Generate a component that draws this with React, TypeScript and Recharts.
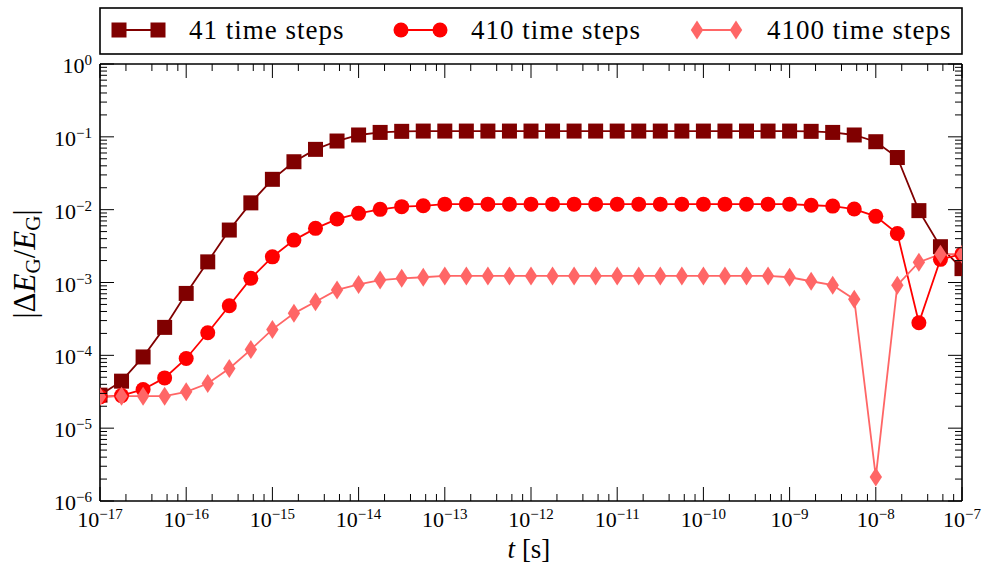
import React from 'react';
import { LineChart, Line, XAxis, YAxis } from 'recharts';

// time grid, 4 points per decade from 1e-17 to 1e-7 s
const times = [
  1e-17, 1.778e-17, 3.162e-17, 5.623e-17,
  1e-16, 1.778e-16, 3.162e-16, 5.623e-16,
  1e-15, 1.778e-15, 3.162e-15, 5.623e-15,
  1e-14, 1.778e-14, 3.162e-14, 5.623e-14,
  1e-13, 1.778e-13, 3.162e-13, 5.623e-13,
  1e-12, 1.778e-12, 3.162e-12, 5.623e-12,
  1e-11, 1.778e-11, 3.162e-11, 5.623e-11,
  1e-10, 1.778e-10, 3.162e-10, 5.623e-10,
  1e-9, 1.778e-9, 3.162e-9, 5.623e-9,
  1e-8, 1.778e-8, 3.162e-8, 5.623e-8,
  1e-7,
];

const steps41 = [
  2.84e-5, 4.42e-5, 9.5e-5, 2.42e-4,
  7.08e-4, 1.92e-3, 5.25e-3, 1.24e-2,
  2.61e-2, 4.55e-2, 6.73e-2, 8.76e-2,
  0.106, 0.115, 0.119, 0.12,
  0.12, 0.12, 0.12, 0.12,
  0.12, 0.12, 0.12, 0.12,
  0.12, 0.12, 0.12, 0.12,
  0.12, 0.12, 0.12, 0.12,
  0.12, 0.119, 0.115, 0.106,
  0.0857, 0.052, 0.0097, 0.0031,
  0.00155,
];

const steps410 = [
  2.69e-5, 2.8e-5, 3.4e-5, 4.9e-5,
  9.06e-5, 2.04e-4, 4.79e-4, 1.14e-3,
  2.25e-3, 3.82e-3, 5.54e-3, 7.43e-3,
  8.9e-3, 1.01e-2, 1.1e-2, 1.13e-2,
  0.0119, 0.0119, 0.0119, 0.0119,
  0.0119, 0.0119, 0.0119, 0.0119,
  0.0119, 0.0119, 0.0119, 0.0119,
  0.0119, 0.0119, 0.0119, 0.0119,
  0.0119, 0.0115, 0.0112, 0.0102,
  0.0081, 0.0047, 0.00028, 0.00208,
  0.00245,
];

const steps4100 = [
  2.69e-5, 2.75e-5, 2.75e-5, 2.75e-5,
  3.15e-5, 4.1e-5, 6.6e-5, 1.2e-4,
  2.27e-4, 3.77e-4, 5.43e-4, 7.9e-4,
  9.4e-4, 1.08e-3, 1.14e-3, 1.18e-3,
  1.23e-3, 1.23e-3, 1.23e-3, 1.23e-3,
  1.23e-3, 1.23e-3, 1.23e-3, 1.23e-3,
  1.23e-3, 1.23e-3, 1.23e-3, 1.23e-3,
  1.23e-3, 1.23e-3, 1.23e-3, 1.23e-3,
  1.18e-3, 1.04e-3, 9.2e-4, 5.9e-4,
  2.14e-6, 9.2e-4, 1.9e-3, 2.45e-3,
  2.45e-3,
];

const seriesNames = ['41 time steps', '410 time steps', '4100 time steps'];
const seriesKeys = ['s41', 's410', 's4100'];
const seriesColors = ['#800000', '#ff0000', '#ff6666'];
const seriesMarkers = ['square', 'circle', 'diamond'];

const xDecades = [-17, -16, -15, -14, -13, -12, -11, -10, -9, -8, -7];
const yDecades = [-6, -5, -4, -3, -2, -1, 0];
const xMinorFactors = [2, 4, 6, 8];
const yMinorFactors = [2, 3, 4, 5, 6, 7, 8, 9];

const data = times.map((t, i) => ({
  t,
  s41: steps41[i],
  s410: steps410[i],
  s4100: steps4100[i],
}));

const xTicks = xDecades.flatMap((d, i) => [
  Math.pow(10, d),
  ...(i < xDecades.length - 1 ? xMinorFactors.map((m) => m * Math.pow(10, d)) : []),
]);
const yTicks = yDecades.flatMap((d, i) => [
  Math.pow(10, d),
  ...(i < yDecades.length - 1 ? yMinorFactors.map((m) => m * Math.pow(10, d)) : []),
]);

const FONT = "'Liberation Serif', 'DejaVu Serif', serif";
const fontStyle = { fontFamily: FONT };
const MAJ = 14;
const MIN = 7;

const isMajor = (v: number) => {
  const l = Math.log10(v);
  return Math.abs(l - Math.round(l)) < 1e-6;
};
const expText = (v: number) => {
  const e = Math.round(Math.log10(v));
  return e < 0 ? `\u2212${-e}` : `${e}`;
};

const BottomTick = (props: any) => {
  const { x, y, payload } = props;
  const m = isMajor(payload.value);
  return (
    <g>
      <line x1={x} x2={x} y1={y} y2={y - (m ? MAJ : MIN)} stroke="#000" strokeWidth={1} />
      {m && (
        <text x={x} y={y + 26} textAnchor="middle" fontSize={22} style={fontStyle} fill="#000">
          10<tspan dy={-8} fontSize={15}>{expText(payload.value)}</tspan>
        </text>
      )}
    </g>
  );
};

const TopTick = (props: any) => {
  const { x, y, payload } = props;
  const m = isMajor(payload.value);
  return <line x1={x} x2={x} y1={y} y2={y + (m ? MAJ : MIN)} stroke="#000" strokeWidth={1} />;
};

const LeftTick = (props: any) => {
  const { x, y, payload } = props;
  const m = isMajor(payload.value);
  return (
    <g>
      <line x1={x} x2={x + (m ? MAJ : MIN)} y1={y} y2={y} stroke="#000" strokeWidth={1} />
      {m && (
        <text x={x - 8} y={y + 9} textAnchor="end" fontSize={22} style={fontStyle} fill="#000">
          10<tspan dy={-8} fontSize={15}>{expText(payload.value)}</tspan>
        </text>
      )}
    </g>
  );
};

const RightTick = (props: any) => {
  const { x, y, payload } = props;
  const m = isMajor(payload.value);
  return <line x1={x} x2={x - (m ? MAJ : MIN)} y1={y} y2={y} stroke="#000" strokeWidth={1} />;
};

const marker = (kind: string, cx: number, cy: number, color: string, key?: any) => {
  if (kind === 'square') {
    return <rect key={key} x={cx - 7.5} y={cy - 7.5} width={15} height={15} fill={color} />;
  }
  if (kind === 'circle') {
    return <circle key={key} cx={cx} cy={cy} r={7.5} fill={color} />;
  }
  return (
    <path
      key={key}
      d={`M${cx},${cy - 9.5}L${cx + 6.2},${cy}L${cx},${cy + 9.5}L${cx - 6.2},${cy}Z`}
      fill={color}
    />
  );
};

const dotFor = (i: number) => (p: any) =>
  marker(seriesMarkers[i], p.cx, p.cy, seriesColors[i], `${seriesKeys[i]}-${p.index}`);

const legendX = [119, 401, 697];

export default function App() {
  return (
    <div style={{ position: 'absolute', left: 0, top: 0, width: 987, height: 569, background: '#fff' }}>
      <LineChart
        width={987}
        height={569}
        data={data}
        margin={{ top: 63, right: 24, bottom: 0, left: 0 }}
      >
        <XAxis
          xAxisId="b"
          dataKey="t"
          type="number"
          scale="log"
          domain={[1e-17, 1e-7]}
          allowDataOverflow
          ticks={xTicks}
          interval={0}
          height={68}
          tickSize={0}
          tickMargin={0}
          tickLine={false}
          axisLine={{ stroke: '#000', strokeWidth: 1.6 }}
          tick={BottomTick}
        />
        <XAxis
          xAxisId="t"
          orientation="top"
          dataKey="t"
          type="number"
          scale="log"
          domain={[1e-17, 1e-7]}
          allowDataOverflow
          ticks={xTicks}
          interval={0}
          height={1}
          tickSize={0}
          tickMargin={0}
          tickLine={false}
          axisLine={{ stroke: '#000', strokeWidth: 1.6 }}
          tick={TopTick}
        />
        <YAxis
          yAxisId="l"
          type="number"
          scale="log"
          domain={[1e-6, 1]}
          allowDataOverflow
          ticks={yTicks}
          interval={0}
          width={100}
          tickSize={0}
          tickMargin={0}
          tickLine={false}
          axisLine={{ stroke: '#000', strokeWidth: 1.6 }}
          tick={LeftTick}
        />
        <YAxis
          yAxisId="r"
          orientation="right"
          type="number"
          scale="log"
          domain={[1e-6, 1]}
          allowDataOverflow
          ticks={yTicks}
          interval={0}
          width={1}
          tickSize={0}
          tickMargin={0}
          tickLine={false}
          axisLine={{ stroke: '#000', strokeWidth: 1.6 }}
          tick={RightTick}
        />
        {seriesKeys.map((k, i) => (
          <Line
            key={k}
            xAxisId="b"
            yAxisId="l"
            dataKey={k}
            name={seriesNames[i]}
            stroke={seriesColors[i]}
            strokeWidth={1.8}
            dot={dotFor(i)}
            activeDot={false}
            isAnimationActive={false}
          />
        ))}
      </LineChart>
      <svg
        width={987}
        height={569}
        style={{ position: 'absolute', left: 0, top: 0, pointerEvents: 'none' }}
      >
        <rect x={100} y={8} width={862} height={46} fill="#fff" stroke="#000" strokeWidth={1.6} />
        {seriesNames.map((n, i) => (
          <g key={n}>
            <line x1={legendX[i]} x2={legendX[i] + 39} y1={30} y2={30} stroke={seriesColors[i]} strokeWidth={1.8} />
            {marker(seriesMarkers[i], legendX[i], 30, seriesColors[i])}
            {marker(seriesMarkers[i], legendX[i] + 39, 30, seriesColors[i])}
            <text x={legendX[i] + 70} y={39} fontSize={27} letterSpacing={1} style={fontStyle} fill="#000">
              {n}
            </text>
          </g>
        ))}
        <text x={529} y={558} textAnchor="middle" fontSize={27} style={fontStyle} fill="#000">
          <tspan fontStyle="italic">t</tspan> [s]
        </text>
        <text
          transform="translate(35, 264) rotate(-90)"
          x={0}
          y={0}
          textAnchor="middle"
          fontSize={31}
          style={fontStyle}
          fill="#000"
        >
          |Δ<tspan fontStyle="italic">E</tspan>
          <tspan fontSize={21} dy={5}>G</tspan>
          <tspan dy={-5}>/</tspan>
          <tspan fontStyle="italic">E</tspan>
          <tspan fontSize={21} dy={5}>G</tspan>
          <tspan dy={-5}>|</tspan>
        </text>
      </svg>
    </div>
  );
}
